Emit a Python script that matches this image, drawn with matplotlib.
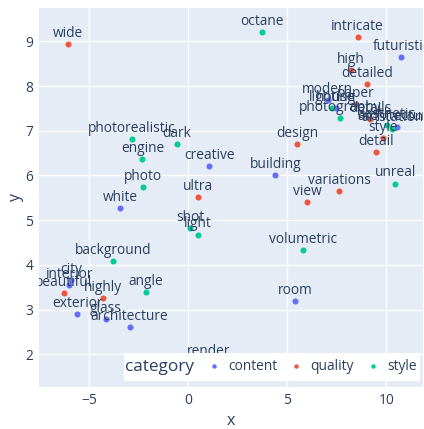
import matplotlib.pyplot as plt
from matplotlib.lines import Line2D
from matplotlib.patches import Rectangle

plt.rcParams['font.family'] = ['Open Sans', 'DejaVu Sans']

# word positions per category
content_words = ["creative", "white", "futuristic", "modern", "house", "architectural",
                 "building", "city", "interior", "exterior", "glass", "architecture", "room"]
content_x = [1.05, -3.43, 10.76, 7.04, 7.46, 10.56, 4.40, -5.92, -6.01, -5.60, -4.17, -2.96, 5.40]
content_y = [6.22, 5.27, 8.65, 7.69, 7.51, 7.08, 6.02, 3.66, 3.55, 2.91, 2.78, 2.62, 3.20]

quality_words = ["wide", "ultra", "intricate", "high", "detailed", "paper", "details", "style",
                 "detail", "design", "variations", "view", "beautiful", "highly"]
quality_x = [-6.06, 0.51, 8.55, 8.22, 9.04, 8.46, 9.19, 9.85, 9.49, 5.51, 7.63, 5.99, -6.29, -4.29]
quality_y = [8.93, 5.52, 9.09, 8.36, 8.04, 7.59, 7.27, 6.83, 6.53, 6.70, 5.66, 5.40, 3.37, 3.27]

style_words = ["photorealistic", "dark", "engine", "photo", "octane", "lighting", "photography",
               "aesthetic", "artstation", "unreal", "background", "angle", "shot", "light",
               "render", "volumetric"]
style_x = [-2.84, -0.59, -2.32, -2.30, 3.71, 7.27, 7.67, 10.02, 10.30, 10.44, -3.80, -2.14,
           0.09, 0.47, 1.00, 5.78]
style_y = [6.82, 6.71, 6.36, 5.75, 9.20, 7.51, 7.28, 7.13, 7.05, 5.82, 4.08, 3.39,
           4.83, 4.68, 1.83, 4.34]

groups = [("content", content_words, content_x, content_y, "#636efa"),
          ("quality", quality_words, quality_x, quality_y, "#EF553B"),
          ("style", style_words, style_x, style_y, "#00cc96")]

txt = "#2a3f5f"

fig = plt.figure(figsize=(4.24, 4.29), dpi=100)
ax = fig.add_axes([39 / 424, 1 - 387 / 429, 384 / 424, 379 / 429])
ax.set_facecolor("#E5ECF6")

handles = []
labels = []
for name, words, xs, ys, col in groups:
    ax.scatter(xs, ys, s=19, color=col, linewidths=0, zorder=3)
    for w, x, y in zip(words, xs, ys):
        ax.annotate(w, (x, y), xytext=(0, 7.6), textcoords="offset points",
                    ha="center", va="center", fontsize=9.9, color=txt, zorder=4,
                    annotation_clip=False, clip_on=True)
    handles.append(Line2D([], [], linestyle="none", marker="o", markersize=3.2,
                          color=col, markeredgewidth=0))
    labels.append(name)

ax.set_xlim(-7.54, 11.85)
ax.set_ylim(1.27, 9.745)
ax.set_xticks([-5, 0, 5, 10])
ax.set_xticklabels(["\u22125", "0", "5", "10"])
ax.set_yticks([2, 3, 4, 5, 6, 7, 8, 9])
ax.grid(True, color="white", linewidth=1)
ax.set_axisbelow(True)
for s in ax.spines.values():
    s.set_visible(False)
ax.tick_params(length=0, labelsize=9.9, labelcolor=txt, pad=4)
ax.set_xlabel("x", fontsize=11.5, color=txt, labelpad=4)
ax.set_ylabel("y", fontsize=11.5, color=txt, labelpad=1)

# horizontal legend: white box, title on the left, entries on the right
ax.add_patch(Rectangle((0.221, 0.0158), 0.771, 0.074, transform=ax.transAxes,
                       facecolor="white", edgecolor="none", zorder=9))
ax.text(0.224, 0.0528, "category", transform=ax.transAxes, ha="left", va="center",
        fontsize=12.3, color=txt, zorder=11)
leg = ax.legend(handles, labels, ncol=3, loc="center right", bbox_to_anchor=(0.983, 0.0528),
                frameon=False, fontsize=9.9, handlelength=0.6, handletextpad=0.74,
                columnspacing=1.06, borderpad=0, borderaxespad=0)
leg.set_zorder(11)
for t in leg.get_texts():
    t.set_color(txt)

fig.savefig("out.png", dpi=100)
